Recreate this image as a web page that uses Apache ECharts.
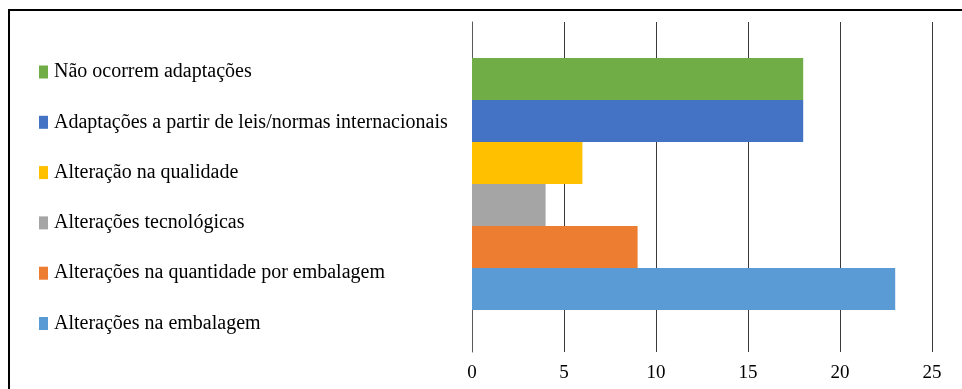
<!DOCTYPE html>
<html>
<head>
<meta charset="utf-8">
<script src="https://cdn.jsdelivr.net/npm/echarts@6/dist/echarts.min.js"></script>
<style>
  html, body { margin: 0; padding: 0; background: #fff; }
  #chart { width: 962px; height: 389px; }
</style>
</head>
<body>
<div id="chart"></div>
<script>
// One category, six series drawn as contiguous horizontal bars
const seriesNames = [
  'Não ocorrem adaptações',
  'Adaptações a partir de leis/normas internacionais',
  'Alteração na qualidade',
  'Alterações tecnológicas',
  'Alterações na quantidade por embalagem',
  'Alterações na embalagem'
];
const seriesValues = [18, 18, 6, 4, 9, 23];
const seriesColors = ['#70AD47', '#4472C4', '#FFC000', '#A5A5A5', '#ED7D31', '#5B9BD5'];
const xTicks = [0, 5, 10, 15, 20, 25];

const FONT = 'Liberation Serif';

const chart = echarts.init(document.getElementById('chart'), null, { renderer: 'canvas' });

const series = seriesNames.map((name, i) => ({
  name: name,
  type: 'bar',
  data: [seriesValues[i]],
  itemStyle: { color: seriesColors[i] },
  barWidth: 42,
  barGap: '0%'
}));
// empty slot below the last bar so the bar block sits slightly above centre
series.push({
  name: 'spacer',
  type: 'bar',
  data: ['-'],
  barWidth: 6,
  barGap: '0%',
  silent: true
});

chart.setOption({
  animation: false,
  backgroundColor: '#fff',
  textStyle: { fontFamily: FONT },
  graphic: [{
    type: 'rect',
    shape: { x: 9, y: 10, width: 1000, height: 500 },
    style: { fill: null, stroke: '#000', lineWidth: 2 },
    silent: true
  }],
  legend: {
    orient: 'vertical',
    left: 34,
    top: 57,
    itemWidth: 9,
    itemHeight: 13,
    itemGap: 30.3,
    icon: 'rect',
    data: seriesNames,
    selectedMode: false,
    textStyle: { fontFamily: FONT, fontSize: 20, color: '#000', lineHeight: 20, padding: [0, 0, 0, 1] }
  },
  grid: { left: 472, right: 30, top: 22, bottom: 37, containLabel: false },
  xAxis: {
    type: 'value',
    min: xTicks[0],
    max: xTicks[xTicks.length - 1],
    interval: 5,
    axisLine: { show: false },
    axisTick: { show: false },
    axisLabel: { fontFamily: FONT, fontSize: 19, color: '#000', margin: 12 },
    splitLine: { show: true, lineStyle: { color: '#3a3a3a', width: 1 } }
  },
  yAxis: {
    type: 'category',
    data: [''],
    inverse: true,
    axisLine: { show: true, lineStyle: { color: '#595959', width: 1 } },
    axisTick: { show: false },
    axisLabel: { show: false }
  },
  series: series
});
</script>
</body>
</html>
